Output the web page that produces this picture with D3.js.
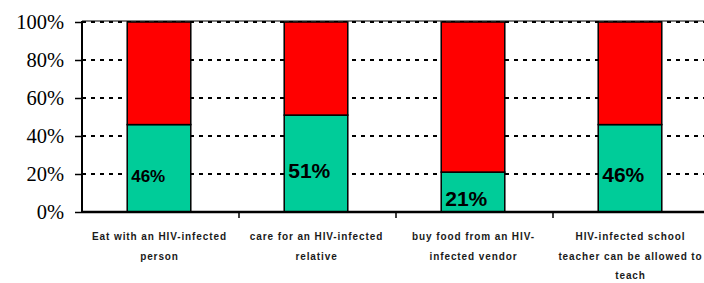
<!DOCTYPE html>
<html>
<head>
<meta charset="utf-8">
<script src="https://cdn.jsdelivr.net/npm/d3@7"></script>
<style>
	body { margin: 0; background: #fff; }
	svg { display: block; }
</style>
</head>
<body>
<div id="chart"></div>
<script>
// Categories (wrapped as in the original)
const categories = [
	"Eat with an HIV-infected person",
	"care for an HIV-infected relative",
	"buy food from an HIV-infected vendor",
	"HIV-infected school teacher can be allowed to teach",
];
const categoryLines = [
	["Eat with an HIV-infected", "person"],
	["care for an HIV-infected", "relative"],
	["buy food from an HIV-", "infected vendor"],
	["HIV-infected school", "teacher can be allowed to", "teach"],
];

// Share who would (green) vs would not (red)
const yesValues = [46, 51, 21, 46];
const noValues = [54, 49, 79, 54];

const yTicks = [0, 20, 40, 60, 80, 100];

const width = 704;
const height = 283;
const margin = { top: 22, right: -6, bottom: 71, left: 82 };

const svg = d3
	.select("#chart")
	.append("svg")
	.attr("width", width)
	.attr("height", height);

const x = d3
	.scaleBand()
	.domain(categories)
	.range([margin.left, width - margin.right])
	.paddingInner(0)
	.paddingOuter(0);

const y = d3
	.scaleLinear()
	.domain([0, 100])
	.range([height - margin.bottom, margin.top]);

const barWidth = x.bandwidth() * 0.405;
const barX = (d) => x(d) + (x.bandwidth() - barWidth) / 2 - 1.5;

// Dashed grid lines
svg
	.append("g")
	.selectAll("line")
	.data(yTicks.filter((t) => t > 0))
	.enter()
	.append("line")
	.attr("x1", margin.left)
	.attr("x2", width)
	.attr("y1", (d) => y(d))
	.attr("y2", (d) => y(d))
	.style("stroke", "#000")
	.style("stroke-width", 2)
	.style("stroke-dasharray", "4,5");

// thin top border
svg
	.append("line")
	.attr("x1", margin.left)
	.attr("x2", width)
	.attr("y1", y(100) - 1)
	.attr("y2", y(100) - 1)
	.style("stroke", "#000")
	.style("stroke-width", 1);

// Stacked bars
const stackData = categories.map((c, i) => ({ cat: c, yes: yesValues[i], no: noValues[i] }));
const series = d3.stack().keys(["yes", "no"])(stackData);
const colors = { yes: "#00CC99", no: "#FF0000" };

svg
	.append("g")
	.selectAll("g")
	.data(series)
	.enter()
	.append("g")
	.attr("fill", (s) => colors[s.key])
	.selectAll("rect")
	.data((s) => s)
	.enter()
	.append("rect")
	.attr("x", (d) => barX(d.data.cat))
	.attr("width", barWidth)
	.attr("y", (d) => y(d[1]))
	.attr("height", (d) => y(d[0]) - y(d[1]))
	.style("stroke", "#000")
	.style("stroke-width", 1.5);

// Value labels inside the green segments
svg
	.append("g")
	.selectAll("text")
	.data(stackData)
	.enter()
	.append("text")
	.attr("x", (d) => barX(d.cat) + 4)
	.attr("y", (d) => y(d.yes / 2) + 14)
	.style("font-family", "Arial, 'Liberation Sans', sans-serif")
	.style("font-weight", "bold")
	.style("font-size", (d, i) => (i === 0 ? "17px" : "21px"))
	.style("fill", "#000")
	.text((d) => d.yes + "%");

// Y axis
const yAxis = svg
	.append("g")
	.attr("transform", `translate(${margin.left},0)`)
	.call(
		d3
			.axisLeft(y)
			.tickValues(yTicks)
			.tickSize(7)
			.tickPadding(11)
			.tickFormat((d) => d + "%")
	);
yAxis.select(".domain").style("stroke-width", 2).attr("d", `M0,${y(0)}V${y(100) - 1}`);
yAxis.selectAll(".tick line").style("stroke-width", 1.5);
yAxis
	.selectAll(".tick text")
	.style("font-family", "'Times New Roman', 'Liberation Serif', serif")
	.style("font-size", "20.5px")
	.attr("dy", "0.33em")
	.style("fill", "#000");

// X axis line with ticks between categories
svg
	.append("line")
	.attr("x1", margin.left)
	.attr("x2", width)
	.attr("y1", y(0))
	.attr("y2", y(0))
	.style("stroke", "#000")
	.style("stroke-width", 2.5);

svg
	.append("g")
	.selectAll("line")
	.data(categories.slice(1))
	.enter()
	.append("line")
	.attr("x1", (d) => x(d))
	.attr("x2", (d) => x(d))
	.attr("y1", y(0))
	.attr("y2", y(0) + 6)
	.style("stroke", "#000")
	.style("stroke-width", 1.5);

// Category labels
const catLabels = svg
	.append("g")
	.selectAll("text")
	.data(categories)
	.enter()
	.append("text")
	.attr("x", (d) => x(d) + x.bandwidth() / 2 - 1)
	.attr("y", 240)
	.attr("text-anchor", "middle")
	.style("font-family", "Arial, 'Liberation Sans', sans-serif")
	.style("font-weight", "bold")
	.style("font-size", "10px")
	.style("letter-spacing", "0.9px")
	.style("fill", "#1a1a1a");

catLabels
	.selectAll("tspan")
	.data((d, i) => categoryLines[i])
	.enter()
	.append("tspan")
	.attr("x", function () {
		return d3.select(this.parentNode).attr("x");
	})
	.attr("dy", (d, i) => (i === 0 ? 0 : 19.5))
	.text((d) => d);
</script>
</body>
</html>
